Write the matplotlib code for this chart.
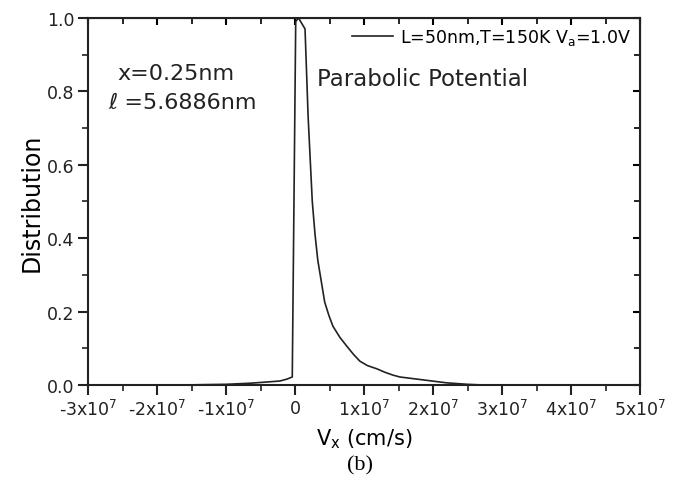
import matplotlib
matplotlib.use("Agg")
import matplotlib.pyplot as plt
from matplotlib.ticker import MultipleLocator

plt.rcParams["font.family"] = ["DejaVu Sans"]
plt.rcParams["mathtext.default"] = "regular"

# -----------------------------
# Data
# -----------------------------
vx = [-3.0e7, -1.6e7, -1.38e7, -1.0e7, -0.65e7, -0.43e7, -0.22e7, -0.12e7, -0.04e7,
      0.01e7, 0.05e7, 0.145e7, 0.19e7, 0.25e7, 0.29e7, 0.33e7, 0.43e7, 0.49e7,
      0.55e7, 0.65e7, 0.75e7, 0.85e7, 0.94e7, 1.05e7, 1.19e7, 1.3e7, 1.42e7,
      1.52e7, 1.86e7, 2.2e7, 2.5e7, 2.75e7, 3.5e7, 5.0e7]
dist = [0.0, 0.0, 0.001, 0.002, 0.005, 0.008, 0.011, 0.016, 0.022,
        0.99, 1.0, 0.97, 0.73, 0.50, 0.41, 0.34, 0.226, 0.19,
        0.16, 0.13, 0.106, 0.083, 0.065, 0.053, 0.044, 0.035, 0.027,
        0.022, 0.014, 0.006, 0.002, 0.0, 0.0, 0.0]

xticks = [-3e7, -2e7, -1e7, 0, 1e7, 2e7, 3e7, 4e7, 5e7]
xticklabels = [r"-3x10$^{7}$", r"-2x10$^{7}$", r"-1x10$^{7}$", "0",
               r"1x10$^{7}$", r"2x10$^{7}$", r"3x10$^{7}$", r"4x10$^{7}$", r"5x10$^{7}$"]
yticks = [0, 0.2, 0.4, 0.6, 0.8, 1.0]
yticklabels = ["0.0", "0.2", "0.4", "0.6", "0.8", "1.0"]

# -----------------------------
# Plot
# -----------------------------
fig = plt.figure(figsize=(6.84, 4.85), dpi=100)
ax = fig.add_axes([0.1287, 0.204, 0.8070, 0.757])

ax.plot(vx, dist, color="#222222", linewidth=1.2, label=r"L=50nm,T=150K V$_a$=1.0V")

ax.set_xlim(-3e7, 5e7)
ax.set_ylim(0, 1.0)
ax.set_xticks(xticks)
ax.set_xticklabels(xticklabels)
ax.xaxis.set_minor_locator(MultipleLocator(0.5e7))
ax.set_yticks(yticks)
ax.set_yticklabels(yticklabels)
ax.yaxis.set_minor_locator(MultipleLocator(0.1))

for s in ax.spines.values():
    s.set_linewidth(1.5)
    s.set_color("#222222")

ax.tick_params(which="major", direction="out", length=7, width=1.5, labelsize=12.5,
               colors="#222222", pad=3)
ax.tick_params(which="minor", direction="out", length=4, width=1.2, colors="#222222")

# inward ticks on top and right
ax_top = ax.secondary_xaxis("top")
ax_top.set_xticks(xticks)
ax_top.xaxis.set_minor_locator(MultipleLocator(0.5e7))
ax_top.tick_params(which="major", direction="in", length=5, width=1.5, labeltop=False)
ax_top.tick_params(which="minor", direction="in", length=4, width=1.2)
ax_top.set_xticklabels([])
ax_right = ax.secondary_yaxis("right")
ax_right.set_yticks(yticks)
ax_right.yaxis.set_minor_locator(MultipleLocator(0.1))
ax_right.tick_params(which="major", direction="in", length=5, width=1.5, labelright=False)
ax_right.tick_params(which="minor", direction="in", length=4, width=1.2)
ax_right.set_yticklabels([])

ax.set_xlabel(r"V$_x$ (cm/s)", fontsize=15, labelpad=5)
ax.set_ylabel("Distribution", fontsize=17, labelpad=2)

ax.legend(loc="upper right", frameon=False, fontsize=12.5, handlelength=2.4,
          handletextpad=0.4, borderaxespad=0.1, borderpad=0.4)

ax.text(0.054, 0.85, "x=0.25nm", transform=ax.transAxes, fontsize=16,
        va="center", color="#222222")
ax.text(0.036, 0.771, "ℓ =5.6886nm", transform=ax.transAxes, fontsize=16,
        va="center", color="#222222")
ax.text(0.415, 0.834, "Parabolic Potential", transform=ax.transAxes, fontsize=16.5,
        va="center", color="#222222")

fig.text(0.527, 0.04, "(b)", fontsize=16, ha="center", va="center",
         family=["Liberation Serif", "DejaVu Serif"])

fig.savefig("out.png", dpi=100)
